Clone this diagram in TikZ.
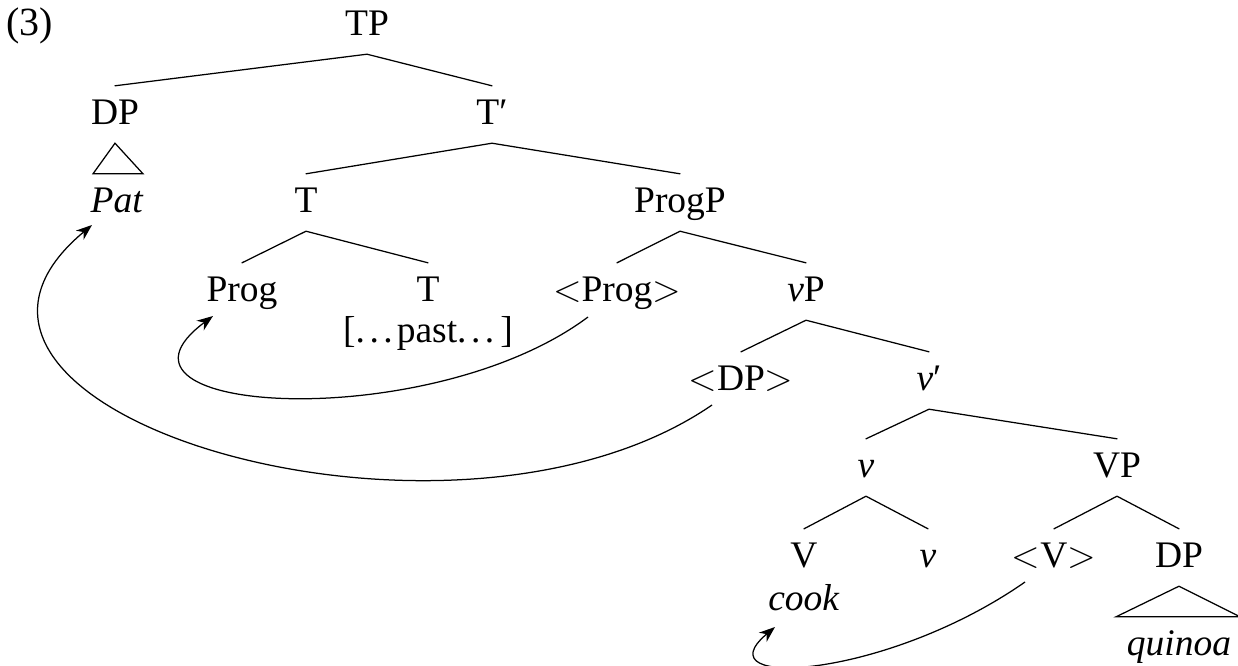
\documentclass[tikz,border=0pt]{standalone}
\usepackage{fontspec}
\setmainfont{Liberation Serif}
\newfontfamily\lmfont{Latin Modern Roman}
\usetikzlibrary{arrows.meta,calc}
\newcommand\spdots{.\kern4.5pt.\kern4.5pt.}
\newcommand\lt{{\lmfont <}}
\newcommand\gt{{\lmfont >}}
\begin{document}
\begin{tikzpicture}[x=1pt,y=-1pt,
  lbl/.style={anchor=base,inner xsep=0pt,inner ysep=14pt,text height=24pt,text depth=5pt,font=\fontsize{37.5}{42}\selectfont},
  edge/.style={line width=1.25pt,line cap=round},
  mv/.style={line width=1.25pt,-{Stealth[length=16pt,width=12pt,inset=5pt]}}]
\useasboundingbox (0,0) rectangle (1238,665);
% labels
\node[lbl,anchor=base west,font=\fontsize{40}{44}\selectfont] (ex) at (6,35) {(3)};
\node[lbl] (tp) at (367,35) {TP};
\node[lbl] (dpa) at (115,124) {DP};
\node[lbl] (tbar) at (492,124) {T′};
\node[lbl] (pat) at (117,212) {\textit{Pat}};
\node[lbl] (ta) at (306,212) {T};
\node[lbl] (progp) at (680,212) {ProgP};
\node[lbl] (prog) at (242,301) {Prog};
\node[lbl] (tb) at (428,301) {T};
\node[lbl] (past) at (428,342) {[\spdots\kern4pt past\spdots\kern6pt]};
\node[lbl] (progt) at (617,301) {\lt Prog\gt};
\node[lbl] (vp) at (806,301) {\textit{v}P};
\node[lbl] (dpt) at (741,390) {\lt DP\gt};
\node[lbl] (vbar) at (929,390) {\textit{v}′};
\node[lbl] (va) at (866,477) {\textit{v}};
\node[lbl] (vpp) at (1117,477) {VP};
\node[lbl] (V) at (804,567) {V};
\node[lbl] (vb) at (928,567) {\textit{v}};
\node[lbl] (Vt) at (1054,567) {\lt V\gt};
\node[lbl] (dpb) at (1179,567) {DP};
\node[lbl] (cook) at (804,610) {\textit{cook}};
\node[lbl] (quinoa) at (1179,655) {\textit{quinoa}};
% branches
\draw[edge] (dpa.north) -- (tp.south) -- (tbar.north);
\draw[edge] (ta.north) -- (tbar.south) -- (progp.north);
\draw[edge] (prog.north) -- (ta.south) -- (tb.north);
\draw[edge] (progt.north) -- (progp.south) -- (vp.north);
\draw[edge] (dpt.north) -- (vp.south) -- (vbar.north);
\draw[edge] (va.north) -- (vbar.south) -- (vpp.north);
\draw[edge] (V.north) -- (va.south) -- (vb.north);
\draw[edge] (Vt.north) -- (vpp.south) -- (dpb.north);
% triangles
\draw[edge,line join=miter] (dpa.south) -- ($(pat.north)+(-24,0)$) -- ($(pat.north)+(26,0)$) -- cycle;
\draw[edge,line join=miter] (dpb.south) -- ($(quinoa.north)+(-63,0)$) -- ($(quinoa.north)+(61,0)$) -- cycle;
% movement arrows
\draw[mv] ($(progt.base)+(-29,16)$) .. controls ($(progt.base)+(-187,134)$) and ($(prog.base)+(-162,114)$) .. ($(prog.base)+(-29,15)$);
\draw[mv] ($(dpt.base)+(-29,15)$) .. controls ($(dpt.base)+(-291,195)$) and ($(pat.base)+(-247,198)$) .. ($(pat.base)+(-25,13)$);
\draw[mv] ($(Vt.base)+(-29,15)$) .. controls ($(Vt.base)+(-168,112)$) and ($(cook.base)+(-104,80)$) .. ($(cook.base)+(-29,17)$);
\end{tikzpicture}
\end{document}
